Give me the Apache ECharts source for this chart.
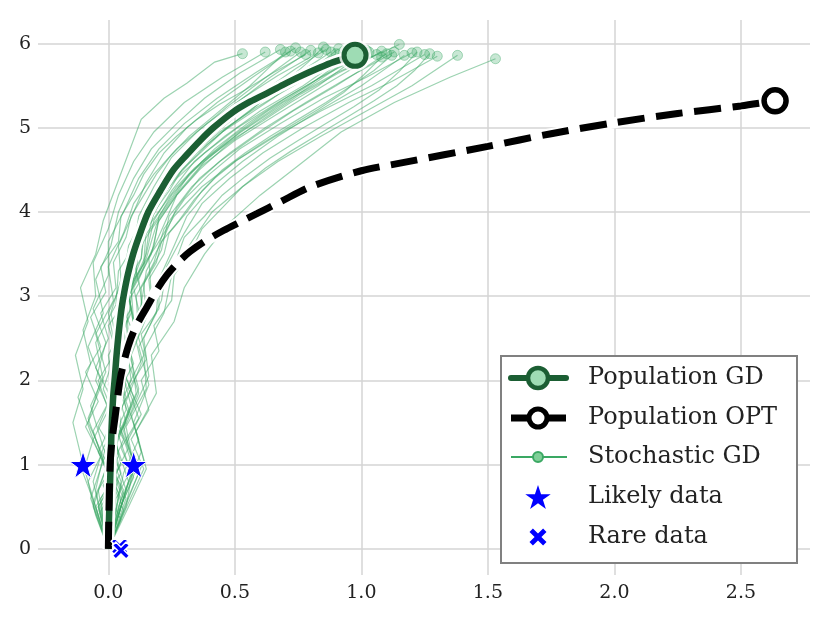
<!DOCTYPE html>
<html>
<head>
<meta charset="utf-8">
<script src="https://cdn.jsdelivr.net/npm/echarts@6/dist/echarts.min.js"></script>
<style>
  html, body { margin: 0; padding: 0; background: #fff; }
  #chart { width: 830px; height: 623px; }
</style>
</head>
<body>
<div id="chart"></div>
<script>
// population gradient descent (solid green)
const gdX = [0, 0.002, 0.005, 0.009, 0.013, 0.019, 0.026, 0.031, 0.037, 0.044, 0.052, 0.063, 0.078, 0.099, 0.126, 0.158, 0.205, 0.257, 0.31, 0.363, 0.415, 0.494, 0.56, 0.626, 0.69, 0.758, 0.825, 0.889, 0.975];
const gdY = [0, 0.3, 0.6, 1.0, 1.45, 1.8, 2.05, 2.25, 2.45, 2.65, 2.85, 3.05, 3.27, 3.51, 3.75, 4.0, 4.25, 4.5, 4.68, 4.85, 5.0, 5.19, 5.31, 5.41, 5.51, 5.61, 5.7, 5.78, 5.86];

// population optimum (dashed black)
const optX = [0, 0.002, 0.007, 0.015, 0.026, 0.046, 0.06, 0.078, 0.1, 0.125, 0.152, 0.19, 0.231, 0.275, 0.323, 0.385, 0.455, 0.52, 0.587, 0.679, 0.8, 1.0, 1.153, 1.5, 1.75, 2.0, 2.25, 2.5, 2.635];
const optY = [0, 0.4, 1.0, 1.3, 1.55, 2.0, 2.2, 2.4, 2.58, 2.73, 2.87, 3.07, 3.25, 3.4, 3.53, 3.66, 3.78, 3.88, 3.98, 4.12, 4.3, 4.49, 4.58, 4.78, 4.93, 5.06, 5.17, 5.26, 5.32];

// data points
const likelyX = [-0.1, 0.1];
const likelyY = [1, 1];
const rareX = [0.045, 0.05];
const rareY = [0.03, -0.02];

// stochastic gradient descent runs
const stochasticPaths = [
  [[0,0],[-0.06,0.6],[-0.1,1.0],[-0.14,1.5],[-0.1,1.9],[-0.13,2.3],[-0.08,2.7],[-0.11,3.1],[-0.05,3.5],[-0.02,3.9],[0.03,4.3],[0.08,4.7],[0.13,5.1],[0.22,5.35],[0.31,5.53],[0.42,5.78],[0.53,5.88]],
  [[0,0],[-0.05,0.5],[-0.1,0.9],[-0.06,1.3],[-0.12,1.8],[-0.07,2.2],[-0.1,2.6],[-0.05,3.0],[-0.06,3.4],[0.0,3.8],[0.04,4.2],[0.1,4.6],[0.18,4.95],[0.3,5.3],[0.45,5.6],[0.62,5.9]],
  [[0,0],[-0.05,0.7],[-0.02,1.1],[-0.08,1.5],[-0.03,2.0],[-0.08,2.4],[-0.02,2.8],[-0.05,3.2],[0.01,3.6],[0.04,4.0],[0.1,4.4],[0.17,4.75],[0.27,5.05],[0.38,5.35],[0.52,5.65],[0.68,5.93]],
  [[0,0],[0.06,0.6],[0.0,1.0],[0.05,1.45],[0.0,1.9],[0.04,2.35],[0.01,2.8],[0.05,3.2],[0.04,3.6],[0.1,4.0],[0.15,4.35],[0.22,4.7],[0.31,5.0],[0.43,5.3],[0.57,5.6],[0.72,5.91]],
  [[0,0],[-0.04,0.5],[0.04,0.95],[0.0,1.4],[0.06,1.85],[0.02,2.3],[0.07,2.75],[0.05,3.15],[0.1,3.55],[0.12,3.95],[0.18,4.3],[0.25,4.65],[0.35,4.95],[0.47,5.25],[0.6,5.55],[0.76,5.9]],
  [[0,0],[0.07,0.7],[0.02,1.15],[0.08,1.6],[0.03,2.0],[0.08,2.45],[0.06,2.9],[0.11,3.3],[0.1,3.7],[0.16,4.05],[0.21,4.4],[0.29,4.7],[0.39,5.0],[0.51,5.3],[0.64,5.6],[0.8,5.92]],
  [[0,0],[-0.06,0.8],[-0.02,1.2],[-0.07,1.7],[-0.01,2.1],[-0.05,2.55],[0.02,2.95],[0.0,3.35],[0.06,3.75],[0.1,4.1],[0.18,4.45],[0.27,4.75],[0.39,5.05],[0.53,5.35],[0.67,5.62],[0.83,5.89]],
  [[0,0],[0.04,0.4],[0.09,0.9],[0.04,1.35],[0.1,1.8],[0.05,2.2],[0.1,2.65],[0.08,3.05],[0.13,3.45],[0.14,3.85],[0.2,4.2],[0.26,4.55],[0.36,4.85],[0.48,5.15],[0.62,5.45],[0.74,5.7],[0.86,5.93]],
  [[0,0],[-0.03,0.6],[0.05,1.0],[0.01,1.5],[0.07,1.95],[0.03,2.4],[0.09,2.8],[0.07,3.25],[0.13,3.6],[0.16,4.0],[0.23,4.35],[0.31,4.65],[0.42,4.95],[0.55,5.25],[0.7,5.55],[0.88,5.9]],
  [[0,0],[0.08,0.8],[0.03,1.25],[0.09,1.7],[0.05,2.15],[0.11,2.6],[0.08,3.0],[0.14,3.4],[0.15,3.8],[0.21,4.15],[0.28,4.5],[0.37,4.8],[0.49,5.1],[0.62,5.4],[0.76,5.65],[0.9,5.88]],
  [[0,0],[0.05,0.6],[-0.02,1.05],[0.05,1.5],[0.0,1.95],[0.07,2.4],[0.05,2.85],[0.11,3.25],[0.12,3.65],[0.19,4.05],[0.26,4.4],[0.35,4.7],[0.47,5.0],[0.6,5.3],[0.76,5.6],[0.93,5.91]],
  [[0,0],[-0.05,0.5],[0.03,0.9],[-0.01,1.35],[0.06,1.8],[0.04,2.25],[0.1,2.7],[0.09,3.1],[0.15,3.5],[0.18,3.9],[0.25,4.25],[0.34,4.6],[0.46,4.9],[0.6,5.2],[0.77,5.5],[0.96,5.9]],
  [[0,0],[0.07,0.5],[0.1,1.0],[0.06,1.45],[0.12,1.9],[0.08,2.35],[0.14,2.75],[0.12,3.2],[0.18,3.6],[0.2,3.95],[0.28,4.3],[0.37,4.6],[0.49,4.9],[0.63,5.2],[0.79,5.5],[0.98,5.92]],
  [[0,0],[0.03,0.7],[-0.04,1.15],[0.03,1.6],[0.01,2.05],[0.08,2.5],[0.07,2.95],[0.14,3.35],[0.16,3.75],[0.24,4.1],[0.32,4.45],[0.42,4.75],[0.55,5.05],[0.7,5.35],[0.85,5.62],[1.0,5.89]],
  [[0,0],[-0.07,0.6],[-0.02,1.05],[-0.08,1.55],[-0.02,2.0],[-0.05,2.45],[0.03,2.9],[0.04,3.3],[0.12,3.7],[0.17,4.05],[0.27,4.4],[0.38,4.7],[0.51,5.0],[0.67,5.3],[0.84,5.6],[1.03,5.9]],
  [[0,0],[0.06,0.9],[0.12,1.3],[0.07,1.75],[0.13,2.2],[0.1,2.6],[0.17,3.0],[0.16,3.45],[0.22,3.85],[0.27,4.2],[0.36,4.5],[0.47,4.8],[0.61,5.1],[0.76,5.4],[0.91,5.65],[1.06,5.87]],
  [[0,0],[0.04,0.5],[0.1,0.95],[0.05,1.4],[0.11,1.85],[0.09,2.3],[0.15,2.75],[0.14,3.15],[0.21,3.55],[0.24,3.95],[0.33,4.3],[0.44,4.6],[0.58,4.9],[0.73,5.2],[0.9,5.5],[1.1,5.88]],
  [[0,0],[-0.04,0.7],[0.04,1.1],[0.02,1.55],[0.09,2.0],[0.07,2.45],[0.13,2.9],[0.15,3.3],[0.22,3.7],[0.27,4.05],[0.36,4.4],[0.48,4.7],[0.62,5.0],[0.78,5.3],[0.95,5.6],[1.13,5.9]],
  [[0,0],[0.08,0.6],[0.14,1.05],[0.1,1.5],[0.16,1.95],[0.12,2.4],[0.19,2.8],[0.2,3.2],[0.26,3.6],[0.31,3.95],[0.41,4.3],[0.53,4.6],[0.67,4.9],[0.83,5.2],[1.0,5.5],[1.17,5.86]],
  [[0,0],[0.05,0.8],[0.0,1.2],[0.07,1.65],[0.05,2.1],[0.12,2.55],[0.11,3.0],[0.18,3.4],[0.22,3.8],[0.3,4.15],[0.4,4.45],[0.52,4.75],[0.68,5.05],[0.85,5.35],[1.02,5.6],[1.2,5.89]],
  [[0,0],[-0.06,0.5],[-0.01,0.95],[-0.06,1.4],[0.02,1.85],[0.0,2.3],[0.08,2.75],[0.1,3.2],[0.19,3.6],[0.26,3.95],[0.37,4.3],[0.5,4.6],[0.66,4.9],[0.84,5.2],[1.04,5.5],[1.25,5.87]],
  [[0,0],[0.07,0.7],[0.13,1.15],[0.09,1.6],[0.16,2.05],[0.14,2.5],[0.21,2.95],[0.23,3.35],[0.3,3.75],[0.37,4.1],[0.48,4.4],[0.61,4.7],[0.77,5.0],[0.95,5.3],[1.12,5.55],[1.3,5.85]],
  [[0,0],[0.03,0.6],[0.1,1.0],[0.07,1.45],[0.15,1.9],[0.14,2.35],[0.22,2.8],[0.25,3.25],[0.33,3.65],[0.41,4.0],[0.53,4.3],[0.67,4.6],[0.84,4.9],[1.02,5.2],[1.2,5.5],[1.38,5.86]],
  [[0,0],[0.08,0.5],[0.15,0.95],[0.11,1.4],[0.19,1.85],[0.17,2.3],[0.26,2.7],[0.3,3.1],[0.38,3.5],[0.47,3.85],[0.6,4.2],[0.75,4.55],[0.92,4.95],[1.13,5.3],[1.35,5.6],[1.53,5.82]],
  [[0,0],[0.04,0.6],[-0.01,1.0],[0.04,1.45],[-0.02,1.9],[0.03,2.35],[0.0,2.8],[0.06,3.2],[0.08,3.6],[0.15,4.0],[0.22,4.35],[0.32,4.65],[0.44,4.95],[0.59,5.25],[0.76,5.55],[0.95,5.93]],
  [[0,0],[-0.03,0.5],[0.05,0.9],[0.01,1.35],[0.07,1.8],[0.03,2.2],[0.1,2.65],[0.08,3.05],[0.15,3.45],[0.19,3.85],[0.27,4.2],[0.37,4.55],[0.5,4.85],[0.66,5.15],[0.85,5.5],[1.08,5.91]],
  [[0,0],[0.06,0.7],[-0.02,1.1],[0.02,1.55],[-0.05,2.0],[-0.01,2.45],[-0.06,2.85],[0.0,3.25],[0.0,3.65],[0.06,4.0],[0.12,4.4],[0.2,4.75],[0.3,5.05],[0.43,5.35],[0.58,5.65],[0.74,5.95]],
  [[0,0],[0.05,0.5],[0.11,0.95],[0.06,1.4],[0.12,1.85],[0.07,2.3],[0.13,2.7],[0.1,3.1],[0.17,3.5],[0.2,3.9],[0.28,4.25],[0.38,4.6],[0.52,4.95],[0.69,5.3],[0.9,5.65],[1.15,5.99]],
  [[0,0],[-0.05,0.4],[-0.08,0.8],[-0.03,1.1],[-0.09,1.45],[-0.04,1.75],[-0.09,2.1],[-0.03,2.4],[-0.07,2.75],[-0.01,3.05],[-0.03,3.35],[0.04,3.65],[0.05,3.95],[0.1,4.2],[0.14,4.45],[0.2,4.7],[0.27,4.9],[0.35,5.1],[0.44,5.28],[0.54,5.45],[0.65,5.65],[0.78,5.87]],
  [[0,0],[0.06,0.45],[0.02,0.85],[0.08,1.2],[0.03,1.55],[0.09,1.9],[0.04,2.2],[0.1,2.55],[0.06,2.85],[0.12,3.15],[0.1,3.45],[0.16,3.75],[0.18,4.0],[0.24,4.25],[0.29,4.5],[0.37,4.72],[0.45,4.95],[0.55,5.15],[0.65,5.35],[0.74,5.55],[0.83,5.75],[0.91,5.94]],
  [[0,0],[-0.04,0.5],[0.03,0.85],[-0.02,1.2],[0.05,1.55],[0.0,1.9],[0.06,2.25],[0.03,2.55],[0.09,2.85],[0.07,3.15],[0.13,3.45],[0.14,3.7],[0.2,3.95],[0.25,4.2],[0.32,4.45],[0.41,4.68],[0.5,4.88],[0.61,5.08],[0.72,5.3],[0.83,5.5],[0.93,5.72],[1.02,5.92]],
  [[0,0],[0.07,0.55],[0.12,0.9],[0.07,1.25],[0.13,1.6],[0.08,1.95],[0.14,2.3],[0.11,2.6],[0.17,2.9],[0.16,3.2],[0.22,3.5],[0.24,3.75],[0.31,4.0],[0.37,4.25],[0.45,4.5],[0.54,4.7],[0.64,4.9],[0.75,5.1],[0.86,5.3],[0.96,5.5],[1.05,5.68],[1.12,5.86]],
  [[0,0],[0.05,0.35],[-0.02,0.75],[0.03,1.1],[-0.04,1.45],[0.01,1.8],[-0.05,2.15],[0.0,2.5],[-0.03,2.8],[0.03,3.1],[0.02,3.4],[0.07,3.7],[0.09,3.95],[0.14,4.2],[0.19,4.45],[0.25,4.68],[0.32,4.9],[0.4,5.1],[0.48,5.3],[0.56,5.5],[0.63,5.7],[0.7,5.9]],
  [[0,0],[-0.06,0.55],[-0.01,0.95],[-0.06,1.3],[0.0,1.65],[-0.04,2.0],[0.03,2.35],[0.0,2.65],[0.07,2.95],[0.06,3.25],[0.12,3.55],[0.15,3.8],[0.21,4.05],[0.27,4.3],[0.34,4.52],[0.43,4.74],[0.52,4.94],[0.62,5.14],[0.72,5.34],[0.81,5.52],[0.9,5.7],[0.99,5.88]],
  [[0,0],[0.04,0.45],[0.1,0.85],[0.05,1.2],[0.12,1.55],[0.08,1.9],[0.15,2.25],[0.13,2.55],[0.2,2.85],[0.2,3.15],[0.27,3.45],[0.3,3.7],[0.38,3.95],[0.45,4.2],[0.54,4.42],[0.64,4.64],[0.75,4.85],[0.86,5.05],[0.97,5.25],[1.07,5.45],[1.15,5.67],[1.22,5.9]],
  [[0,0],[0.07,0.6],[0.01,0.95],[0.06,1.3],[0.0,1.65],[0.06,2.0],[0.02,2.35],[0.07,2.7],[0.04,3.0],[0.1,3.3],[0.1,3.6],[0.15,3.85],[0.19,4.1],[0.25,4.35],[0.32,4.58],[0.39,4.8],[0.47,5.0],[0.56,5.2],[0.64,5.4],[0.72,5.6],[0.79,5.78],[0.85,5.96]],
  [[0,0],[-0.03,0.45],[0.04,0.8],[0.0,1.15],[0.07,1.5],[0.04,1.85],[0.1,2.2],[0.07,2.5],[0.13,2.8],[0.13,3.1],[0.19,3.4],[0.21,3.65],[0.28,3.9],[0.34,4.15],[0.42,4.4],[0.51,4.62],[0.61,4.82],[0.72,5.02],[0.83,5.22],[0.93,5.42],[1.01,5.63],[1.08,5.84]],
  [[0,0],[0.08,0.55],[0.14,0.95],[0.09,1.3],[0.16,1.65],[0.13,2.0],[0.2,2.35],[0.18,2.65],[0.25,2.95],[0.26,3.25],[0.33,3.55],[0.37,3.8],[0.45,4.05],[0.53,4.3],[0.62,4.52],[0.72,4.72],[0.83,4.92],[0.94,5.12],[1.05,5.32],[1.14,5.5],[1.21,5.68],[1.27,5.88]]
];

const DARK = '#1b5e33';
const LIGHT = '#9edcb4';
const SGD = '#3aa863';
const BLUE = '#0000ff';
const FONT = '"DejaVu Serif", serif';
// marker outlines on a 100x100 box
const STAR_PTS = [[50,0],[61.8,35.1],[98.9,35.1],[68.9,56.7],[80.3,91.9],[50,70.2],[19.7,91.9],[31.1,56.7],[1.1,35.1],[38.2,35.1]];
const CROSS_PTS = [[20,0],[50,30],[80,0],[100,20],[70,50],[100,80],[80,100],[50,70],[20,100],[0,80],[30,50],[0,20]];

function toPath(pts) {
  return 'path://M' + pts.map(p => p[0] + ',' + p[1]).join(' L') + ' Z';
}
function placeIcon(pts, cx, cy, size) {
  return pts.map(p => [cx + (p[0] - 50) * size / 100, cy + (p[1] - 50) * size / 100]);
}
function zip(xs, ys) {
  return xs.map((x, i) => [x, ys[i]]);
}

const gdData = zip(gdX, gdY);
const optData = zip(optX, optY);
const sgdEnds = stochasticPaths.map(p => p[p.length - 1]);

const chart = echarts.init(document.getElementById('chart'));

const legendRows = [
  { y: 378, text: 'Population GD' },
  { y: 418, text: 'Population OPT' },
  { y: 457, text: 'Stochastic GD' },
  { y: 497, text: 'Likely data' },
  { y: 537, text: 'Rare data' }
];

const legendGraphics = [
  { type: 'rect', shape: { x: 501, y: 356, width: 296, height: 207 }, style: { fill: '#fff', stroke: '#808080', lineWidth: 2 }, z: 100 },
  { type: 'line', shape: { x1: 511, y1: 378, x2: 566, y2: 378 }, style: { stroke: DARK, lineWidth: 6, lineCap: 'round' }, z: 101 },
  { type: 'circle', shape: { cx: 538, cy: 378, r: 10 }, style: { fill: LIGHT, stroke: DARK, lineWidth: 4.5 }, z: 102 },
  { type: 'line', shape: { x1: 511, y1: 418, x2: 566, y2: 418 }, style: { stroke: '#000', lineWidth: 7 }, z: 101 },
  { type: 'circle', shape: { cx: 538, cy: 418, r: 9 }, style: { fill: '#fff', stroke: '#000', lineWidth: 5 }, z: 102 },
  { type: 'line', shape: { x1: 511, y1: 457, x2: 567, y2: 457 }, style: { stroke: SGD, lineWidth: 2 }, z: 101 },
  { type: 'circle', shape: { cx: 538, cy: 457, r: 5 }, style: { fill: '#7fcf97', stroke: SGD, lineWidth: 2 }, z: 102 },
  { type: 'polygon', shape: { points: placeIcon(STAR_PTS, 538, 498, 26) }, style: { fill: BLUE }, z: 102 },
  { type: 'polygon', shape: { points: placeIcon(CROSS_PTS, 538, 537, 17) }, style: { fill: BLUE }, z: 102 }
].concat(legendRows.map(r => ({
  type: 'text', x: 588, y: r.y, z: 103,
  style: { text: r.text, font: '24px ' + FONT, fill: '#222', verticalAlign: 'middle' }
})));

const option = {
  animation: false,
  backgroundColor: '#fff',
  grid: { left: 38, right: 20, top: 20, bottom: 48, containLabel: false, outerBoundsMode: 'none' },
  xAxis: {
    type: 'value', min: -0.278, max: 2.773,
    axisLine: { show: false }, axisTick: { show: false },
    axisLabel: { showMinLabel: false, showMaxLabel: false, margin: 9, color: '#222', fontSize: 19, fontFamily: FONT,
      formatter: v => v.toFixed(1) },
    splitLine: { show: true, showMinLine: false, showMaxLine: false, lineStyle: { color: '#d4d4d4', width: 1.5 } }
  },
  yAxis: {
    type: 'value', min: -0.31, max: 6.28,
    axisLine: { show: false }, axisTick: { show: false },
    axisLabel: { showMinLabel: false, showMaxLabel: false, margin: 7, color: '#222', fontSize: 19, fontFamily: FONT },
    splitLine: { show: true, showMinLine: false, showMaxLine: false, lineStyle: { color: '#d4d4d4', width: 1.5 } }
  },
  series: [
    {
      type: 'lines', coordinateSystem: 'cartesian2d', polyline: true, silent: true, z: 1,
      data: stochasticPaths.map(p => ({ coords: p })),
      lineStyle: { color: SGD, width: 1.2, opacity: 0.5 }
    },
    {
      type: 'scatter', data: sgdEnds, symbol: 'circle', symbolSize: 10, z: 1, silent: true,
      itemStyle: { color: 'rgba(58,168,99,0.35)', borderColor: 'rgba(58,168,99,0.5)', borderWidth: 1 }
    },
    {
      type: 'line', data: optData, showSymbol: false, smooth: 0.3, z: 3, silent: true,
      lineStyle: { color: '#fff', width: 11 }
    },
    {
      type: 'line', data: gdData, showSymbol: false, smooth: 0.3, z: 4, silent: true,
      lineStyle: { color: '#fff', width: 12 }
    },
    {
      type: 'line', data: gdData, showSymbol: false, smooth: 0.3, z: 5, silent: true,
      lineStyle: { color: DARK, width: 6.5 }
    },
    {
      type: 'line', data: optData, showSymbol: false, smooth: 0.3, z: 6, silent: true,
      lineStyle: { color: '#000', width: 7, type: [27, 11.5] }
    },
    {
      type: 'scatter', data: [gdData[gdData.length - 1]], symbolSize: 32, z: 7, silent: true,
      itemStyle: { color: '#fff' }
    },
    {
      type: 'scatter', data: [gdData[gdData.length - 1]], symbolSize: 22, z: 8, silent: true,
      itemStyle: { color: LIGHT, borderColor: DARK, borderWidth: 5, opacity: 1 }
    },
    {
      type: 'scatter', data: [optData[optData.length - 1]], symbolSize: 22, z: 8, silent: true,
      itemStyle: { color: '#fff', borderColor: '#000', borderWidth: 5.5, opacity: 1 }
    },
    {
      type: 'scatter', data: zip(likelyX, likelyY), symbol: toPath(STAR_PTS), symbolSize: 27, z: 9, silent: true,
      itemStyle: { color: BLUE, borderColor: '#fff', borderWidth: 1, opacity: 1 }
    },
    {
      type: 'scatter', data: zip(rareX, rareY), symbol: toPath(CROSS_PTS), symbolSize: 17, z: 9, silent: true,
      itemStyle: { color: BLUE, borderColor: '#fff', borderWidth: 1.5, opacity: 1 }
    }
  ],
  graphic: legendGraphics
};

chart.setOption(option);
</script>
</body>
</html>
